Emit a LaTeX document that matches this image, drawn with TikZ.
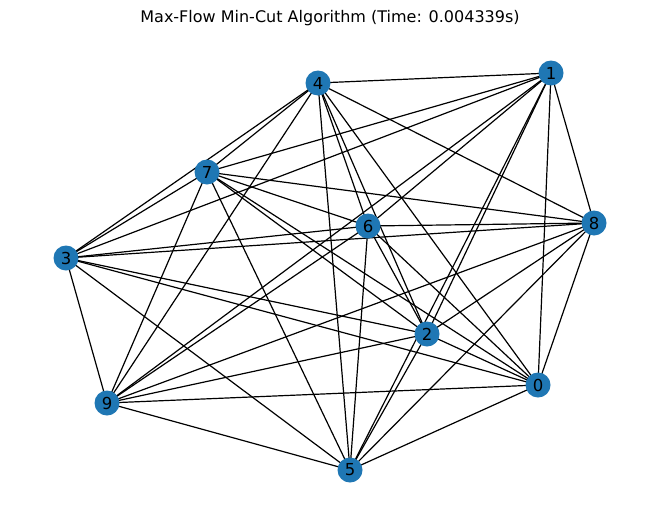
\documentclass[tikz,border=0pt]{standalone}
\usepackage{fontspec}
\setmainfont{DejaVu Sans}
\usetikzlibrary{backgrounds}
\definecolor{nodeblue}{HTML}{1F77B4}
\tikzset{
  vertex/.style={circle, fill=nodeblue, draw=none, minimum size=25pt, inner sep=0pt, font=\fontsize{16.5}{16.5}\selectfont, text=black},
  edge/.style={draw=black, line width=1.2pt},
  titletext/.style={font=\fontsize{16}{18}\selectfont, text=black}
}
\begin{document}
\begin{tikzpicture}[x=1pt,y=-1pt]
\useasboundingbox (0,0) rectangle (660,522);
\node[titletext] (title) at (330,18) {Max-Flow Min-Cut Algorithm (Time: 0.004339s)};
\node[vertex] (n0) at (538,385) {0};
\node[vertex] (n1) at (551,73) {1};
\node[vertex] (n2) at (427,334) {2};
\node[vertex] (n3) at (66,258) {3};
\node[vertex] (n4) at (318,83) {4};
\node[vertex] (n5) at (350,470) {5};
\node[vertex] (n6) at (368,226) {6};
\node[vertex] (n7) at (207,172) {7};
\node[vertex] (n8) at (594,223) {8};
\node[vertex] (n9) at (107,403) {9};
\begin{pgfonlayer}{background}
\fill[white] (0,0) rectangle (660,522);
\foreach \i in {0,...,8}{
  \pgfmathtruncatemacro\nxt{\i+1}
  \foreach \j in {\nxt,...,9}{
    \draw[edge] (n\i.center) -- (n\j.center);
  }
}
\end{pgfonlayer}
\end{tikzpicture}
\end{document}
